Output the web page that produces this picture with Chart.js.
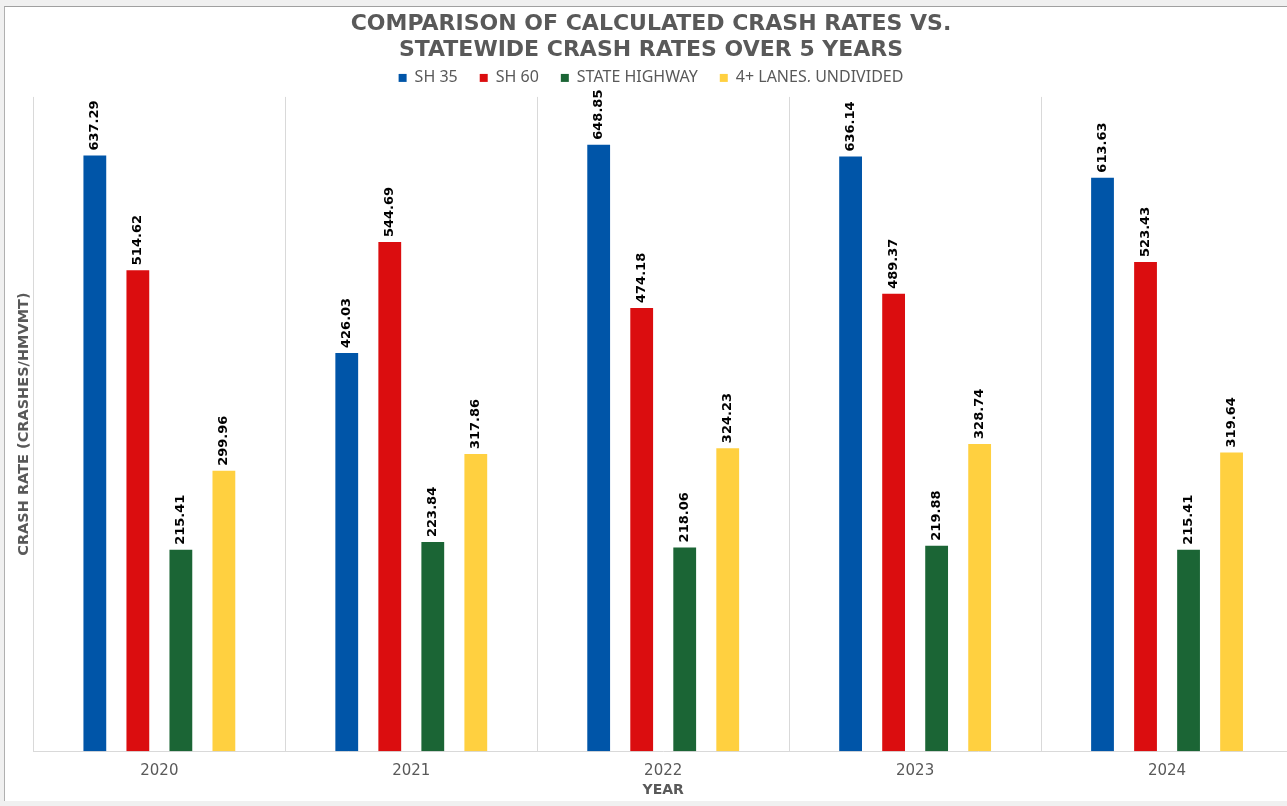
<!DOCTYPE html>
<html>
<head>
<meta charset="utf-8">
<script src="https://cdn.jsdelivr.net/npm/chart.js@4.4.1/dist/chart.umd.min.js"></script>
<style>
  html, body { margin: 0; padding: 0; overflow: hidden; background: #f0f0f0; }
  .frame { position: absolute; left: 4px; top: 6px; width: 1300px; height: 794px;
           background: #fff; border-top: 1px solid #a0a0a0; border-left: 1px solid #b0b0b0; }
  .chart-box { position: absolute; left: 0; top: 0; width: 1294px; height: 792px; }
</style>
</head>
<body>
<div class="frame"><div class="chart-box"><canvas id="chart"></canvas></div></div>
<script>
// data
const years = ["2020", "2021", "2022", "2023", "2024"];
const sh35 = [637.29, 426.03, 648.85, 636.14, 613.63];
const sh60 = [514.62, 544.69, 474.18, 489.37, 523.43];
const stateHighway = [215.41, 223.84, 218.06, 219.88, 215.41];
const fourLanes = [299.96, 317.86, 324.23, 328.74, 319.64];

const gray = "#595959";

// vertical value labels on top of each bar
const barLabels = {
  id: "barLabels",
  afterDatasetsDraw(chart) {
    const ctx = chart.ctx;
    ctx.save();
    ctx.font = "bold 13px 'DejaVu Sans'";
    ctx.fillStyle = "#000";
    ctx.textAlign = "left";
    ctx.textBaseline = "middle";
    chart.data.datasets.forEach((ds, i) => {
      chart.getDatasetMeta(i).data.forEach((bar, j) => {
        ctx.save();
        ctx.translate(bar.x, bar.y - 5);
        ctx.rotate(-Math.PI / 2);
        ctx.fillText(ds.data[j].toFixed(2), 0, 0);
        ctx.restore();
      });
    });
    ctx.restore();
  },
};

// keep wide gaps between legend items but a short legend box
const legendSqueeze = {
  id: "legendSqueeze",
  afterInit(chart) {
    const legend = chart.legend;
    const fit = legend.fit;
    const draw = legend.draw;
    legend.fit = function () {
      fit.call(this);
      this.height = 34;
    };
    legend.draw = function () {
      chart.ctx.save();
      chart.ctx.translate(0, -15);
      draw.call(this);
      chart.ctx.restore();
    };
  },
};

const chartConfig = {
  type: "bar",
  data: {
    labels: years,
    datasets: [
      { label: "SH 35", data: sh35, backgroundColor: "#0055a8" },
      { label: "SH 60", data: sh60, backgroundColor: "#db0d0f" },
      { label: "STATE HIGHWAY", data: stateHighway, backgroundColor: "#1b6535" },
      { label: "4+ LANES, UNDIVIDED", data: fourLanes, backgroundColor: "#ffd040" },
    ],
  },
  options: {
    responsive: true,
    maintainAspectRatio: false,
    animation: false,
    layout: { padding: { left: 4, right: 6, top: 0, bottom: 0 } },
    datasets: {
      bar: { categoryPercentage: 0.683, barPercentage: 0.53 },
    },
    plugins: {
      title: {
        display: true,
        text: ["COMPARISON OF CALCULATED CRASH RATES VS.", "STATEWIDE CRASH RATES OVER 5 YEARS"],
        color: gray,
        font: { family: "'DejaVu Sans'", size: 22, weight: "bold", lineHeight: 1.18 },
        padding: { top: 4, bottom: 0 },
      },
      legend: {
        position: "top",
        labels: {
          color: gray,
          font: { family: "'Noto Sans'", size: 16 },
          boxWidth: 8,
          boxHeight: 8,
          padding: 22,
        },
      },
      tooltip: { enabled: false },
    },
    scales: {
      x: {
        grid: { color: "#d9d9d9", tickColor: "rgba(0,0,0,0)", tickLength: 9, offset: true },
        border: { color: "#d9d9d9" },
        ticks: { color: gray, font: { family: "'DejaVu Sans'", size: 15 }, padding: 2 },
        title: {
          display: true,
          text: "YEAR",
          color: gray,
          font: { family: "'DejaVu Sans'", size: 14, weight: "bold" },
          padding: { top: 0, bottom: 0 },
        },
      },
      y: {
        min: 0,
        max: 700,
        grid: { display: false, drawTicks: false },
        border: { display: false },
        ticks: { display: false },
        title: {
          display: true,
          text: "CRASH RATE (CRASHES/HMVMT)",
          color: gray,
          font: { family: "'DejaVu Sans'", size: 14.5, weight: "bold" },
          padding: { top: 7, bottom: 0 },
        },
      },
    },
  },
  plugins: [barLabels, legendSqueeze],
};

const myChart = new Chart(document.getElementById("chart"), chartConfig);
</script>
</body>
</html>
